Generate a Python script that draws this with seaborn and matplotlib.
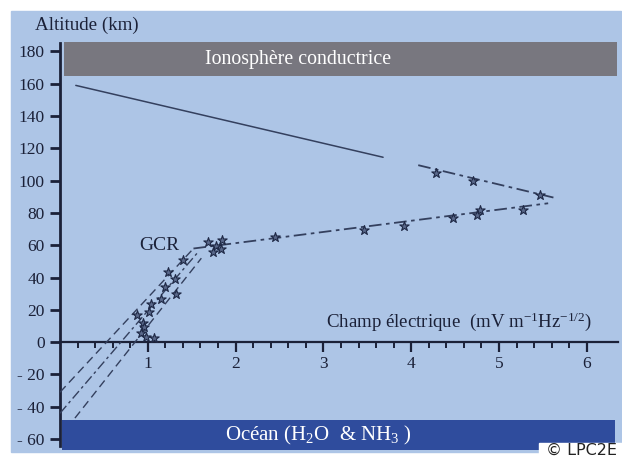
import matplotlib
matplotlib.use("Agg")
import matplotlib.pyplot as plt
import seaborn as sns
import pandas as pd
from matplotlib.patches import Rectangle
from matplotlib.ticker import FixedLocator

gcr_field = [1.40, 1.23, 1.31, 1.20, 1.15, 1.32, 1.04, 1.01, 0.88, 0.95, 0.96, 0.92, 0.98, 1.07]
gcr_alt = [50.8, 43.5, 39.0, 34.3, 27.0, 29.7, 23.5, 18.8, 16.7, 11.6, 9.5, 5.8, 2.9, 2.3]
low_field = [1.69, 1.84, 1.78, 1.74, 1.83, 2.45, 3.46, 3.92, 4.48, 4.78, 4.75, 5.27]
low_alt = [62.0, 63.0, 59.5, 56.0, 57.5, 65.2, 69.3, 71.8, 76.8, 81.7, 78.6, 81.7]
up_field = [4.28, 4.70, 5.47]
up_alt = [104.6, 99.7, 91.0]

# Fitted / guide lines
solid_field = [0.18, 3.68]
solid_alt = [159.0, 114.5]
upfit_field = [4.08, 5.64]
upfit_alt = [109.6, 89.3]
lowfit_field = [1.52, 5.56]
lowfit_alt = [58.0, 86.0]
gcr_a_field = [0.0, 1.52]
gcr_a_alt = [-31.0, 58.0]
gcr_b_field = [0.0, 1.56]
gcr_b_alt = [-44.0, 55.0]
gcr_c_field = [0.17, 1.61]
gcr_c_alt = [-47.0, 52.0]

# Boundary layers
iono_alt = [165, 186]
ocean_alt = [-67, -48]

y_ticks = [180, 160, 140, 120, 100, 80, 60, 40, 20, 0, -20, -40, -60]
y_labels = ["180", "160", "140", "120", "100", "80", "60", "40", "20", "0", "- 20", "- 40", "- 60"]
x_ticks = [1, 2, 3, 4, 5, 6]
x_minor = [0.2, 0.4, 0.6, 0.8, 1.2, 1.4, 1.6, 1.8, 2.2, 2.4, 2.6, 2.8, 3.2, 3.4, 3.6, 3.8,
           4.2, 4.4, 4.6, 4.8, 5.2, 5.4, 5.6, 5.8]

sns.set_style("ticks")
plt.rcParams["font.family"] = ["Liberation Serif", "DejaVu Serif"]
plt.rcParams["mathtext.fontset"] = "custom"
plt.rcParams["mathtext.rm"] = "Liberation Serif"
plt.rcParams["mathtext.it"] = "Liberation Serif:italic"

bg = "#adc5e6"
ink = "#1b2138"
linec = "#34405e"

fig = plt.figure(figsize=(6.22, 4.58), dpi=100, facecolor="white")
fig.patches.append(Rectangle((11 / 622, 1 - 452 / 458), 610 / 622, 441 / 458,
                             transform=fig.transFigure, color=bg, zorder=-10))

ax = fig.add_axes([60 / 622, 6 / 458, 6.38 * 87.8 / 622, 258 * 1.615 / 458])
ax.set_zorder(2)
ax.set_facecolor("none")
ax.set_xlim(0, 6.38)
ax.set_ylim(-68, 190)

# bands
ax.fill_between([0.05, 6.34], iono_alt[0], iono_alt[1], color="#78777f", lw=0, zorder=1)
ax.fill_between([0.02, 6.32], ocean_alt[0], ocean_alt[1], color="#2f4c9d", lw=0, zorder=1)
ax.text(2.71, 175, "Ionosphère conductrice", color="white", fontsize=14.3,
        ha="center", va="center", zorder=2)
ax.text(2.94, -57.5, "Océan (H$_2$O  & NH$_3$ )", color="white", fontsize=15,
        ha="center", va="center", zorder=2)

dash = (0, (6, 3.5))
dashdot = (0, (7, 2.5, 2, 2.5))

def line(xs, ys, ls, lw=1.0):
    sns.lineplot(x=xs, y=ys, ax=ax, color=linec, linestyle=ls, lw=lw,
                 sort=False, estimator=None, zorder=3)

line(solid_field, solid_alt, "-", 1.1)
line(upfit_field, upfit_alt, dashdot, 1.3)
line(lowfit_field, lowfit_alt, dashdot, 1.3)
line(gcr_a_field, gcr_a_alt, dash)
line(gcr_b_field, gcr_b_alt, dashdot)
line(gcr_c_field, gcr_c_alt, dash)

pts = pd.DataFrame({"field": gcr_field + low_field + up_field,
                    "alt": gcr_alt + low_alt + up_alt})
sns.scatterplot(data=pts, x="field", y="alt", ax=ax, marker="*", s=50,
                color="#5b6a8c", edgecolor="#1e2845", linewidth=0.8, zorder=4)

ax.text(1.13, 60, "GCR", color=ink, fontsize=14, ha="center", va="center")
ax.text(6.06, 12.4, "Champ électrique  (mV m$^{\\mathregular{-1}}$Hz$^{\\mathregular{-1/2}}$)",
        color=ink, fontsize=13.6, ha="right", va="center")

# axes
for s in ["top", "right"]:
    ax.spines[s].set_visible(False)
ax.spines["left"].set_position(("data", 0))
ax.spines["bottom"].set_position(("data", 0))
ax.spines["left"].set_bounds(-64, 185)
ax.spines["bottom"].set_bounds(0, 6.36)
ax.spines["left"].set_linewidth(2.0)
ax.spines["bottom"].set_linewidth(1.6)
ax.spines["left"].set_color(ink)
ax.spines["bottom"].set_color(ink)

ax.yaxis.set_major_locator(FixedLocator(y_ticks))
ax.set_yticklabels(y_labels)
ax.xaxis.set_major_locator(FixedLocator(x_ticks))
ax.xaxis.set_minor_locator(FixedLocator(x_minor))
ax.set_xticklabels([str(t) for t in x_ticks])
ax.tick_params(axis="y", direction="out", length=7, width=2.0, color=ink,
               labelcolor=ink, labelsize=12.5, pad=4)
ax.tick_params(axis="x", which="major", direction="out", length=7, width=1.6, color=ink,
               labelcolor=ink, labelsize=12.5, pad=3)
ax.tick_params(axis="x", which="minor", direction="out", length=4.5, width=1.4, color=ink)
ax.set_xlabel("")
ax.set_ylabel("")

fig.text(35 / 622, 1 - 25 / 458, "Altitude (km)", color=ink, fontsize=13.7,
         ha="left", va="center")

# copyright tag
fig.patches.append(Rectangle((539 / 622, 0), 83 / 622, 15 / 458,
                             transform=fig.transFigure, color="white", zorder=5))
fig.text(546 / 622, 3 / 458, "© LPC2E", family="DejaVu Sans", color="#222222",
         fontsize=11.5, ha="left", va="baseline", zorder=6)

fig.savefig("out.png", dpi=100, facecolor="white")
